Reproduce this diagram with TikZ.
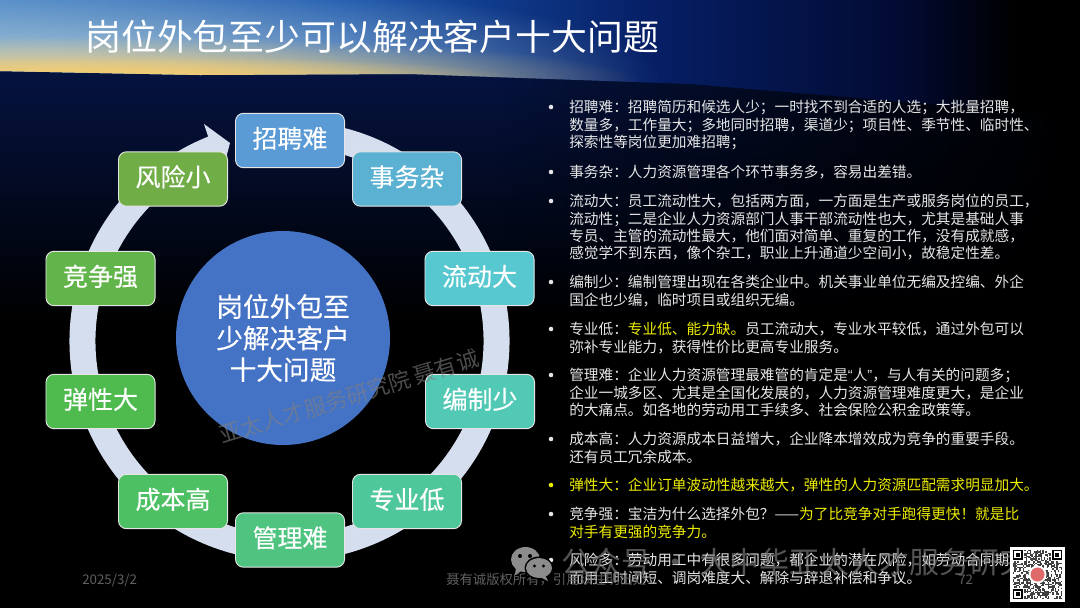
\documentclass[tikz,border=0pt]{standalone}
\usepackage{fontspec}
\setmainfont{Noto Sans CJK SC}
\newfontfamily\labelfont{Noto Sans CJK SC}[FakeBold=0.25]
\newfontfamily\quotefont{Liberation Sans}
\usetikzlibrary{fadings}

\definecolor{skyleft}{HTML}{3C7EC6}
\definecolor{skymid}{HTML}{1A56AE}
\definecolor{skydeep}{HTML}{061F66}
\definecolor{skynight}{HTML}{020A30}
\definecolor{glowpale}{HTML}{B4CCD6}
\definecolor{glowsun}{HTML}{F4CC70}
\definecolor{navytop}{HTML}{051340}
\definecolor{ringfill}{HTML}{D5DEEE}
\definecolor{hubfill}{HTML}{4472C4}
\definecolor{bodygray}{HTML}{E6E6E6}
\definecolor{bodyyellow}{HTML}{EDED00}
\definecolor{footgray}{HTML}{606060}
\definecolor{sealred}{HTML}{E06A6A}
\definecolor{boxa}{HTML}{5B9BD5}
\definecolor{boxb}{HTML}{5AB1D2}
\definecolor{boxc}{HTML}{58C8D0}
\definecolor{boxd}{HTML}{51C9B5}
\definecolor{boxe}{HTML}{4EC89B}
\definecolor{boxf}{HTML}{4EC480}
\definecolor{boxg}{HTML}{4DC063}
\definecolor{boxh}{HTML}{4FBB4F}
\definecolor{boxi}{HTML}{62B54A}
\definecolor{boxj}{HTML}{70AD47}

\pgfdeclarehorizontalshading{skyband}{100bp}{color(0bp)=(skyleft); color(25bp)=(skyleft); color(41bp)=(skymid); color(55bp)=(skydeep); color(67bp)=(skynight); color(72bp)=(black); color(100bp)=(black)}
\tikzfading[name=toright, left color=transparent!100, right color=transparent!0]
\tikzfading[name=glowfade, inner color=transparent!0, outer color=transparent!100]

\tikzset{
    itembox/.style={draw=white!80!gray, line width=0.7pt, fill=#1, rounded corners=6pt, minimum width=81.8pt, minimum height=40.8pt, inner sep=0pt, text=white, text height=16pt, text depth=5pt, font=\labelfont\fontsize{18.75}{22}\selectfont},
    bodytext/.style={anchor=north west, inner sep=0pt, align=left, text=bodygray, font=\fontsize{11}{13.05}\selectfont},
    dotmark/.style={circle, fill=#1, minimum size=3.4pt, inner sep=0pt},
    foottext/.style={inner sep=0pt, text=footgray, font=\fontsize{10}{12}\selectfont},
}

\newcommand{\qrfinder}[2]{
    \fill[black](#1,#2)rectangle++(9.8,9.8);
    \fill[white](#1+1.4,#2+1.4)rectangle++(7,7);
    \fill[black](#1+2.8,#2+2.8)rectangle++(4.2,4.2);
}

\begin{document}
\begin{tikzpicture}[x=0.75pt,y=-0.75pt]
    \useasboundingbox(0,0)rectangle(1080,608);

    % background
    \fill[black](0,0)rectangle(1080,608);
    \fill[top color=navytop, bottom color=black](0,70)rectangle(1080,320);
    \fill[black, path fading=toright](500,70)rectangle(1080,320);
    \begin{scope}
        \clip(0,0)--(1080,0)--(1080,120)--(1000,110)--(690,84)--(410,74)--(200,75)--(0,71)--cycle;
        \shade[shading=skyband](0,0)rectangle(1080,120);
        \fill[glowpale, path fading=glowfade](40,75)ellipse[x radius=620, y radius=100];
        \fill[glowsun, path fading=glowfade](80,80)ellipse[x radius=560, y radius=44];
        \fill[glowsun, path fading=glowfade](120,78)ellipse[x radius=400, y radius=22];
    \end{scope}

    \node[inner sep=0pt, text=white, anchor=west, font=\fontsize{26.9}{32}\selectfont](title)at(85,37){岗位外包至少可以解决客户十大问题};

    % ring with its arrow head
    \begin{scope}[shift={(289.5,341)},x=0.75pt,y=0.75pt]
        \fill[ringfill](80:220)arc[start angle=80, end angle=-248.3, radius=220]
            --(-85.5,217)--(-59.5,198)--(-67.1,169.2)
            --(-248.3:194)arc[start angle=-248.3, end angle=80, radius=194]--cycle;
    \end{scope}

    \node[circle, fill=hubfill, minimum size=160.5pt, inner sep=0pt, align=center, text=white, font=\labelfont\fontsize{20}{23.6}\selectfont](hub)at(283,338){岗位外包至\\少解决客户\\十大问题};

    \node[itembox=boxa](zhaopin)at(290,140.5){招聘难};
    \node[itembox=boxb](shiwu)at(407,179){事务杂};
    \node[itembox=boxc](liudong)at(479.5,278.5){流动大};
    \node[itembox=boxd](bianzhi)at(480,401.5){编制少};
    \node[itembox=boxe](zhuanye)at(407,501.5){专业低};
    \node[itembox=boxf](guanli)at(290,540){管理难};
    \node[itembox=boxg](chengben)at(173,501.5){成本高};
    \node[itembox=boxh](tanxing)at(100.5,401.5){弹性大};
    \node[itembox=boxi](jingzheng)at(100.5,278.5){竞争强};
    \node[itembox=boxj](fengxian)at(173,179){风险小};

    % right column
    \node[dotmark=bodygray](dota)at(551,107){};
    \node[dotmark=bodygray](dotb)at(551,172){};
    \node[dotmark=bodygray](dotc)at(551,201){};
    \node[dotmark=bodygray](dotd)at(551,282){};
    \node[dotmark=bodygray](dote)at(551,329){};
    \node[dotmark=bodygray](dotf)at(551,375){};
    \node[dotmark=bodygray](dotg)at(551,439){};
    \node[dotmark=bodyyellow](doth)at(551,485){};
    \node[dotmark=bodygray](doti)at(551,514){};
    \node[dotmark=bodygray](dotj)at(551,560){};

    \node[bodytext](textzhaopin)at(569,100){招聘难：招聘简历和候选人少；一时找不到合适的人选；大批量招聘，\\数量多，工作量大；多地同时招聘，渠道少；项目性、季节性、临时性、\\探索性等岗位更加难招聘；};
    \node[bodytext](textshiwu)at(569,165){事务杂：人力资源管理各个环节事务多，容易出差错。};
    \node[bodytext](textliudong)at(569,194){流动大：员工流动性大，包括两方面，一方面是生产或服务岗位的员工，\\流动性；二是企业人力资源部门人事干部流动性也大，尤其是基础人事\\专员、主管的流动性最大，他们面对简单、重复的工作，没有成就感，\\感觉学不到东西，像个杂工，职业上升通道少空间小，故稳定性差。};
    \node[bodytext](textbianzhi)at(569,275){编制少：编制管理出现在各类企业中。机关事业单位无编及控编、外企\\国企也少编，临时项目或组织无编。};
    \node[bodytext](textzhuanye)at(569,322){专业低：\textcolor{bodyyellow}{专业低、能力缺。}员工流动大，专业水平较低，通过外包可以\\弥补专业能力，获得性价比更高专业服务。};
    \node[bodytext](textguanli)at(569,368){管理难：企业人力资源管理最难管的肯定是{\quotefont“}人{\quotefont”}，与人有关的问题多；\\企业一城多区、尤其是全国化发展的，人力资源管理难度更大，是企业\\的大痛点。如各地的劳动用工手续多、社会保险公积金政策等。};
    \node[bodytext](textchengben)at(569,432){成本高：人力资源成本日益增大，企业降本增效成为竞争的重要手段。\\还有员工冗余成本。};
    \node[bodytext, text=bodyyellow](texttanxing)at(569,478){弹性大：企业订单波动性越来越大，弹性的人力资源匹配需求明显加大。};
    \node[bodytext](textjingzheng)at(569,507){竞争强：宝洁为什么选择外包？——\textcolor{bodyyellow}{为了比竞争对手跑得更快！就是比}\\\textcolor{bodyyellow}{对手有更强的竞争力。}};
    \node[bodytext](textfengxian)at(569,553){风险多：劳动用工中有很多问题，都企业的潜在风险，如劳动合同期\\而用工时间短、调岗难度大、解除与辞退补偿和争议。};

    % footer
    \node[foottext, anchor=west](footdate)at(82,580){2025/3/2};
    \node[foottext, anchor=west](footnote)at(446,580){聂有诚版权所有，引用须注明出处};
    \node[foottext, anchor=west](footpage)at(958,580){72};

    % watermarks
    \node[inner sep=0pt, text=gray, opacity=0.6, rotate=17, font=\fontsize{16.5}{20}\selectfont](markname)at(349,396.5){亚太人才服务研究院 聂有诚};
    \node[inner sep=0pt, anchor=west, text=gray, opacity=0.65, font=\fontsize{22.5}{26}\selectfont](markpublic)at(561,562){公众号\hspace{7pt}·\hspace{7pt}大中华亚太人才服务研究};

    % chat icon
    \fill[gray!90](525.5,559.5)ellipse[x radius=14.5, y radius=12.5];
    \fill[gray!90](516,567)--(515,575)--(523,570)--cycle;
    \fill[black](539,568)ellipse[x radius=14.5, y radius=11.5];
    \fill[gray!90](539,568)ellipse[x radius=13, y radius=10];
    \fill[gray!90](545,575)--(548,581)--(540,577)--cycle;
    \fill[black](520,556)circle[radius=2];
    \fill[black](530,556)circle[radius=2];
    \fill[black](534.5,566)circle[radius=1.6];
    \fill[black](543.5,566)circle[radius=1.6];

    % code square
    \fill[white](1010,547)rectangle(1065,602);
    \pgfmathsetseed{11}
    \foreach \i in {0,...,34}{
        \foreach \j in {0,...,34}{
            \pgfmathrandominteger{\qrbit}{0}{1}
            \ifnum\qrbit=1
                \fill[black!75](1013+\i*1.4,550+\j*1.4)rectangle++(1.4,1.4);
            \fi
        }
    }
    \fill[white](1013,550)rectangle++(11.2,11.2);
    \fill[white](1050.8,550)rectangle++(11.2,11.2);
    \fill[white](1013,587.8)rectangle++(11.2,11.2);
    \qrfinder{1013}{550}
    \qrfinder{1052.2}{550}
    \qrfinder{1013}{589.2}
    \fill[white](1037.5,574.5)circle[radius=9];
    \fill[sealred](1037.5,574.5)circle[radius=7];
\end{tikzpicture}
\end{document}
